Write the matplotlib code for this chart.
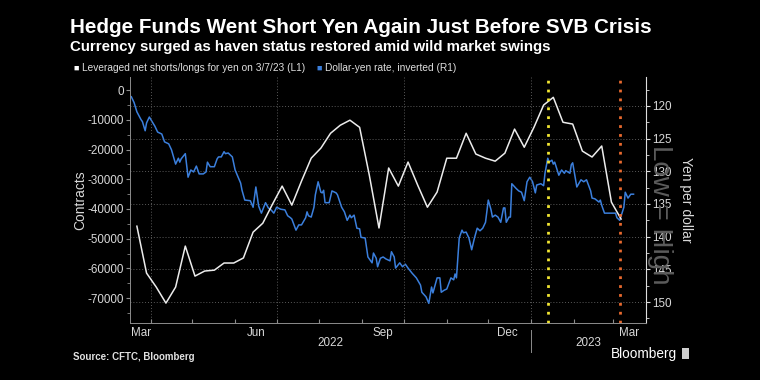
import matplotlib
matplotlib.use('Agg')
import matplotlib.pyplot as plt
import matplotlib.dates as mdates
import matplotlib.ticker as mticker
import matplotlib.transforms as mtrans
import pandas as pd

# CFTC weekly leveraged net positions (contracts), Tuesdays from 2022-03-22 to 2023-03-07
cftc_start = '2022-03-22'
cftc_net = [-45800, -61600, -66300, -71700, -66300, -52500, -62600, -60900, -60600, -58200,
            -58200, -56500, -47800, -44800, -38400, -32300, -38700, -30600, -22900, -19500,
            -14500, -11800, -10100, -12500, -28600, -46400, -26200, -32300, -24200, -32000,
            -39400, -34300, -22900, -22900, -14500, -21500, -22900, -23900, -21200, -13100,
            -19200, -12500, -5000, -2400, -10800, -11400, -20500, -22500, -18800, -37700,
            -43400]

# Dollar-yen rate (plotted inverted on right axis)
usdjpy_dates = [
    '2022-03-18', '2022-03-20', '2022-03-22', '2022-03-25', '2022-03-26', '2022-03-28',
    '2022-03-29', '2022-03-31', '2022-04-02', '2022-04-04', '2022-04-06', '2022-04-09',
    '2022-04-11', '2022-04-14', '2022-04-16', '2022-04-19', '2022-04-21', '2022-04-22',
    '2022-04-23', '2022-04-26', '2022-04-28', '2022-04-30', '2022-05-02', '2022-05-04',
    '2022-05-06', '2022-05-09', '2022-05-11', '2022-05-12', '2022-05-14', '2022-05-17',
    '2022-05-19', '2022-05-20', '2022-05-22', '2022-05-24', '2022-05-25', '2022-05-27',
    '2022-05-30', '2022-06-01', '2022-06-02', '2022-06-05', '2022-06-06', '2022-06-08',
    '2022-06-12', '2022-06-14', '2022-06-16', '2022-06-18', '2022-06-20', '2022-06-23',
    '2022-06-25', '2022-06-27', '2022-06-29', '2022-07-01', '2022-07-04', '2022-07-07',
    '2022-07-09', '2022-07-11', '2022-07-12', '2022-07-15', '2022-07-17', '2022-07-19',
    '2022-07-22', '2022-07-23', '2022-07-24', '2022-07-26', '2022-07-28', '2022-07-29',
    '2022-07-31', '2022-08-02', '2022-08-03', '2022-08-04', '2022-08-05', '2022-08-08',
    '2022-08-10', '2022-08-13', '2022-08-14', '2022-08-17', '2022-08-19', '2022-08-21',
    '2022-08-23', '2022-08-24', '2022-08-26', '2022-08-28', '2022-08-30', '2022-08-31',
    '2022-09-03', '2022-09-04', '2022-09-05', '2022-09-08', '2022-09-09', '2022-09-11',
    '2022-09-12', '2022-09-14', '2022-09-16', '2022-09-18', '2022-09-21', '2022-09-22',
    '2022-09-24', '2022-09-25', '2022-09-28', '2022-09-30', '2022-10-02', '2022-10-04',
    '2022-10-07', '2022-10-10', '2022-10-13', '2022-10-14', '2022-10-17', '2022-10-19',
    '2022-10-21', '2022-10-22', '2022-10-25', '2022-10-27', '2022-10-28', '2022-10-30',
    '2022-11-01', '2022-11-04', '2022-11-06', '2022-11-07', '2022-11-08', '2022-11-10',
    '2022-11-12', '2022-11-13', '2022-11-15', '2022-11-17', '2022-11-19', '2022-11-21',
    '2022-11-23', '2022-11-25', '2022-11-27', '2022-11-29', '2022-12-01', '2022-12-03',
    '2022-12-04', '2022-12-06', '2022-12-08', '2022-12-10', '2022-12-12', '2022-12-13',
    '2022-12-14', '2022-12-16', '2022-12-17', '2022-12-18', '2022-12-21', '2022-12-23',
    '2022-12-25', '2022-12-27', '2022-12-29', '2022-12-31', '2023-01-02', '2023-01-04',
    '2023-01-05', '2023-01-08', '2023-01-10', '2023-01-11', '2023-01-13', '2023-01-14',
    '2023-01-16', '2023-01-17', '2023-01-18', '2023-01-21', '2023-01-23', '2023-01-25',
    '2023-01-26', '2023-01-29', '2023-01-30', '2023-01-31', '2023-02-03', '2023-02-06',
    '2023-02-08', '2023-02-10', '2023-02-13', '2023-02-14', '2023-02-16', '2023-02-19',
    '2023-02-20', '2023-02-21', '2023-02-23', '2023-02-25', '2023-02-28', '2023-03-03',
    '2023-03-04', '2023-03-06', '2023-03-09', '2023-03-10', '2023-03-12', '2023-03-14',
    '2023-03-16']
usdjpy = [
    118.6, 119.5, 120.9, 122.1, 122.4, 123.8, 122.6, 121.7, 122.4, 123.1, 124.0, 124.3,
    125.5, 125.8, 126.7, 128.9, 128.0, 128.6, 128.1, 127.3, 130.9, 129.8, 130.1, 129.2,
    130.4, 130.4, 130.1, 128.6, 129.3, 129.3, 128.1, 127.8, 127.8, 127.0, 127.3, 127.2,
    127.8, 129.8, 130.3, 131.8, 132.9, 134.4, 134.5, 135.5, 132.4, 135.3, 136.4, 134.8,
    135.6, 135.9, 136.4, 135.5, 135.8, 135.9, 136.8, 137.1, 137.3, 139.0, 138.2, 138.2,
    137.1, 136.2, 136.8, 137.0, 135.5, 133.6, 131.6, 133.2, 133.3, 132.9, 134.8, 134.8,
    133.0, 133.3, 133.6, 135.5, 136.2, 137.5, 136.7, 137.1, 136.7, 138.7, 138.8, 140.1,
    140.2, 141.6, 143.1, 144.0, 142.5, 143.3, 144.6, 143.3, 143.1, 143.4, 143.7, 142.3,
    143.1, 144.8, 144.0, 144.6, 144.2, 144.8, 145.6, 146.3, 147.4, 148.5, 149.2, 150.2,
    147.7, 148.6, 146.3, 146.3, 148.5, 148.2, 148.0, 146.3, 146.6, 145.7, 146.3, 140.2,
    139.0, 139.4, 139.3, 140.2, 142.0, 140.2, 138.7, 139.1, 138.7, 137.8, 134.4, 135.9,
    137.0, 136.7, 137.0, 137.8, 135.6, 135.6, 137.8, 137.0, 137.0, 131.9, 132.6, 133.0,
    133.2, 134.5, 131.6, 130.9, 131.6, 133.3, 132.1, 131.9, 132.2, 130.3, 128.0, 128.6,
    128.3, 128.9, 128.6, 130.6, 129.8, 130.3, 129.9, 130.3, 129.0, 128.7, 132.4, 131.3,
    131.6, 131.3, 133.0, 134.1, 134.2, 134.7, 134.4, 135.2, 136.4, 136.4, 136.4, 136.4,
    137.1, 137.5, 135.5, 133.2, 134.1, 133.5, 133.5]

marker_dates = ['2023-01-13', '2023-03-06']
marker_colors = ['#f2e632', '#e8692e']

month_labels = ['Mar', 'Jun', 'Sep', 'Dec', 'Mar']
month_label_dates = ['2022-03-25', '2022-06-16', '2022-09-16', '2022-12-15', '2023-03-13']

font = 'Liberation Sans'
plt.rcParams['axes.unicode_minus'] = False
plt.rcParams['font.family'] = font

cftc_dates = pd.date_range(cftc_start, periods=len(cftc_net), freq='7D')
jpy_dates = pd.to_datetime(usdjpy_dates)

fig = plt.figure(figsize=(7.6, 3.8), dpi=100, facecolor='black')
ax = fig.add_axes([0.171, 0.15, 0.679, 0.647])
ax2 = ax.twinx()
ax.set_zorder(ax2.get_zorder() + 1)
ax.patch.set_visible(False)
ax2.patch.set_facecolor('black')

grid_col = '#5a5a5a'
axis_col = '#8c8c8c'
txt_col = '#d8d8d8'

ax2.plot(jpy_dates, usdjpy, color='#3b7fdc', lw=1.1)
ax.plot(cftc_dates, cftc_net, color='#ececec', lw=1.1)

xmin, xmax = pd.Timestamp('2022-03-17'), pd.Timestamp('2023-03-25')
ax.set_xlim(xmin, xmax)
ax.set_ylim(-78400, 4400)
ax2.set_ylim(153.2, 115.6)

# quarter gridlines
for q in ['2022-04-01', '2022-07-01', '2022-10-01', '2023-01-01']:
    ax.axvline(pd.Timestamp(q), color=grid_col, ls=(0, (1, 2)), lw=0.7, zorder=0)
for d, c in zip(marker_dates, marker_colors):
    ax.axvline(pd.Timestamp(d), color=c, ls=(0, (1, 2.2)), lw=2.0, zorder=5)

ax2.yaxis.set_major_locator(mticker.MultipleLocator(5))
ax2.yaxis.set_minor_locator(mticker.MultipleLocator(2.5))
ax2.grid(axis='y', which='major', color=grid_col, ls=(0, (1, 2)), lw=0.7)

ax.yaxis.set_major_locator(mticker.MultipleLocator(10000))
ax.yaxis.set_minor_locator(mticker.MultipleLocator(5000))
ax.yaxis.set_major_formatter(mticker.FuncFormatter(lambda v, p: '%d' % v))

ax.xaxis.set_major_locator(mdates.MonthLocator())
ax.xaxis.set_major_formatter(mticker.NullFormatter())
ax.set_xticks(pd.to_datetime(month_label_dates), month_labels, minor=True)

for a in (ax, ax2):
    for s in a.spines.values():
        s.set_visible(False)
ax.spines['left'].set_visible(True)
ax.spines['left'].set_color(axis_col)
ax.spines['left'].set_linewidth(0.7)
ax.spines['bottom'].set_visible(True)
ax.spines['bottom'].set_color(axis_col)
ax.spines['bottom'].set_linewidth(0.7)
ax2.spines['right'].set_visible(True)
ax2.spines['right'].set_color('#dddddd')
ax2.spines['right'].set_linewidth(0.8)

ax.tick_params(axis='y', which='major', length=3, color=axis_col, labelcolor=txt_col,
               labelsize=8.4, pad=1.5)
ax.tick_params(axis='y', which='minor', length=2, color=axis_col)
ax.tick_params(axis='x', which='major', length=3, direction='in', color=axis_col)
ax.tick_params(axis='x', which='minor', length=0, labelcolor=txt_col, labelsize=8.4, pad=3)
ax2.tick_params(axis='y', which='major', length=3, color='#dddddd', labelcolor=txt_col,
                labelsize=8.4, pad=1.5)
ax2.tick_params(axis='y', which='minor', length=2, color='#dddddd')

ax.set_ylabel('Contracts', color=txt_col, fontsize=10, labelpad=0)
ax2.set_ylabel('Yen per dollar', color=txt_col, fontsize=10, rotation=270, labelpad=15)

# watermark
ax2.text(1.027, 0.44, 'Low = High', transform=ax2.transAxes, rotation=270, color='#5c5c5c',
         fontsize=20, ha='center', va='center')

# year labels and separator
tr = mtrans.blended_transform_factory(ax.transData, ax.transAxes)
jan1 = pd.Timestamp('2023-01-01')
ax.plot([jan1, jan1], [-0.028, -0.118], transform=tr, color=axis_col, lw=0.7, clip_on=False)
ax.text(xmin + (jan1 - xmin) / 2, -0.082, '2022', transform=tr, color=txt_col,
        fontsize=8.4, ha='center', va='center')
ax.text(jan1 + (xmax - jan1) / 2, -0.082, '2023', transform=tr, color=txt_col,
        fontsize=8.4, ha='center', va='center')

# titles
fig.text(0.092, 0.928, 'Hedge Funds Went Short Yen Again Just Before SVB Crisis',
         color='white', fontsize=14.9, fontweight='bold', va='center')
fig.text(0.092, 0.876, 'Currency surged as haven status restored amid wild market swings',
         color='white', fontsize=10.8, fontweight='bold', va='center')

# legend
fig.text(0.097, 0.821, '\u25a0', color='white', fontsize=6.5, va='center')
fig.text(0.108, 0.821, 'Leveraged net shorts/longs for yen on 3/7/23 (L1)',
         color='#e0e0e0', fontsize=7.3, va='center')
fig.text(0.416, 0.821, '\u25a0', color='#3b7fdc', fontsize=6.5, va='center')
fig.text(0.427, 0.821, 'Dollar-yen rate, inverted (R1)',
         color='#e0e0e0', fontsize=7.3, va='center')

# footer
fig.text(0.096, 0.06, 'Source: CFTC, Bloomberg', color='#e0e0e0', fontsize=7,
         fontweight='bold', va='center')
fig.text(0.891, 0.068, 'Bloomberg', color='white', fontsize=9.8, ha='right', va='center')
fig.patches.append(plt.Rectangle((0.898, 0.055), 0.009, 0.029, transform=fig.transFigure,
                                 facecolor='#cfcfcf', edgecolor='none'))

fig.savefig('out.png', dpi=100, facecolor='black')
